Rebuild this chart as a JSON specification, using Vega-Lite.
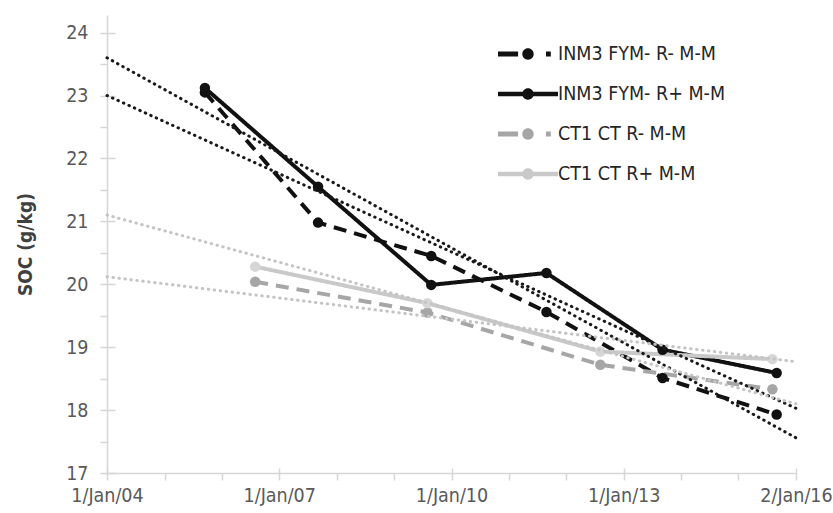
{
  "$schema": "https://vega.github.io/schema/vega-lite/v6.json",
  "width": 689,
  "height": 458,
  "autosize": "none",
  "padding": {"left": 107, "top": 15, "right": 37, "bottom": 40},
  "background": "white",
  "config": {
    "view": {"stroke": null},
    "font": "DejaVu Sans Condensed, sans-serif",
    "axis": {
      "grid": false,
      "domainColor": "#d6d6d6",
      "domainWidth": 1.5,
      "tickColor": "#d6d6d6",
      "tickWidth": 1.5,
      "labelColor": "#595959",
      "labelFontSize": 19.5,
      "labelFont": "DejaVu Sans Condensed, sans-serif",
      "labelFlush": false,
      "labelOverlap": false
    }
  },
  "datasets": {
    "obs": [
      {"series": "INM3 FYM- R- M-M", "date": "2005-09-15", "soc": 23.05},
      {"series": "INM3 FYM- R- M-M", "date": "2007-09-05", "soc": 20.98},
      {"series": "INM3 FYM- R- M-M", "date": "2009-08-25", "soc": 20.45},
      {"series": "INM3 FYM- R- M-M", "date": "2011-08-28", "soc": 19.56},
      {"series": "INM3 FYM- R- M-M", "date": "2013-09-05", "soc": 18.51},
      {"series": "INM3 FYM- R- M-M", "date": "2015-09-01", "soc": 17.93},
      {"series": "INM3 FYM- R+ M-M", "date": "2005-09-15", "soc": 23.12},
      {"series": "INM3 FYM- R+ M-M", "date": "2007-09-05", "soc": 21.55},
      {"series": "INM3 FYM- R+ M-M", "date": "2009-08-25", "soc": 19.99},
      {"series": "INM3 FYM- R+ M-M", "date": "2011-08-28", "soc": 20.18},
      {"series": "INM3 FYM- R+ M-M", "date": "2013-09-05", "soc": 18.96},
      {"series": "INM3 FYM- R+ M-M", "date": "2015-09-01", "soc": 18.59},
      {"series": "CT1 CT R- M-M", "date": "2006-08-01", "soc": 20.04},
      {"series": "CT1 CT R- M-M", "date": "2009-08-01", "soc": 19.55},
      {"series": "CT1 CT R- M-M", "date": "2012-08-05", "soc": 18.72},
      {"series": "CT1 CT R- M-M", "date": "2015-08-05", "soc": 18.33},
      {"series": "CT1 CT R+ M-M", "date": "2006-08-01", "soc": 20.28},
      {"series": "CT1 CT R+ M-M", "date": "2009-08-01", "soc": 19.70},
      {"series": "CT1 CT R+ M-M", "date": "2012-08-05", "soc": 18.93},
      {"series": "CT1 CT R+ M-M", "date": "2015-08-05", "soc": 18.81}
    ],
    "trend": [
      {"trend": "INM3 R- trend", "tone": "black", "date": "2004-01-01", "soc": 23.6},
      {"trend": "INM3 R- trend", "tone": "black", "date": "2016-01-01", "soc": 17.56},
      {"trend": "INM3 R+ trend", "tone": "black", "date": "2004-01-01", "soc": 23.0},
      {"trend": "INM3 R+ trend", "tone": "black", "date": "2016-01-01", "soc": 18.03},
      {"trend": "CT1 R- trend", "tone": "gray", "date": "2004-01-01", "soc": 21.1},
      {"trend": "CT1 R- trend", "tone": "gray", "date": "2016-01-01", "soc": 18.1},
      {"trend": "CT1 R+ trend", "tone": "gray", "date": "2004-01-01", "soc": 20.12},
      {"trend": "CT1 R+ trend", "tone": "gray", "date": "2016-01-01", "soc": 18.77}
    ]
  },
  "layer": [
    {
      "data": {"name": "obs"},
      "mark": {"type": "line", "strokeWidth": 4},
      "encoding": {
        "x": {
          "field": "date",
          "type": "temporal",
          "scale": {
            "type": "utc",
            "nice": false,
            "domain": [
              {"year": 2004, "month": 1, "date": 1, "utc": true},
              {"year": 2016, "month": 1, "date": 2, "utc": true}
            ]
          },
          "axis": {
            "orient": "bottom",
            "title": null,
            "tickSize": 7,
            "labelPadding": 6,
            "values": [
              {"year": 2004, "month": 1, "date": 1, "utc": true},
              {"year": 2005, "month": 1, "date": 1, "utc": true},
              {"year": 2006, "month": 1, "date": 1, "utc": true},
              {"year": 2007, "month": 1, "date": 1, "utc": true},
              {"year": 2008, "month": 1, "date": 1, "utc": true},
              {"year": 2009, "month": 1, "date": 1, "utc": true},
              {"year": 2010, "month": 1, "date": 1, "utc": true},
              {"year": 2011, "month": 1, "date": 1, "utc": true},
              {"year": 2012, "month": 1, "date": 1, "utc": true},
              {"year": 2013, "month": 1, "date": 1, "utc": true},
              {"year": 2014, "month": 1, "date": 1, "utc": true},
              {"year": 2015, "month": 1, "date": 1, "utc": true},
              {"year": 2016, "month": 1, "date": 2, "utc": true}
            ],
            "labelExpr": "utcmonth(datum.value) == 0 && (utcyear(datum.value) - 2004) % 3 == 0 ? utcFormat(datum.value, '%-d/%b/%y') : ''"
          }
        },
        "y": {
          "field": "soc",
          "type": "quantitative",
          "scale": {"domain": [17, 24.28], "nice": false, "zero": false},
          "axis": {
            "orient": "left",
            "title": "SOC (g/kg)",
            "titleFont": "DejaVu Sans Condensed, sans-serif",
            "titleFontWeight": "bold",
            "titleFontSize": 19,
            "titleColor": "#404040",
            "titlePadding": 30,
            "tickSize": 7,
            "labelPadding": 12,
            "values": [17, 17.5, 18, 18.5, 19, 19.5, 20, 20.5, 21, 21.5, 22, 22.5, 23, 23.5, 24],
            "labelExpr": "datum.value % 1 == 0 ? format(datum.value, 'd') : ''"
          }
        },
        "stroke": {
          "field": "series",
          "type": "nominal",
          "scale": {"range": ["#c9c9c9", "#a6a6a6", "#111111", "#111111"]},
          "legend": null
        },
        "strokeDash": {
          "field": "series",
          "type": "nominal",
          "scale": {"range": [[1, 0], [13, 8], [1, 0], [13, 8]]},
          "legend": null
        }
      }
    },
    {
      "data": {"name": "obs"},
      "mark": {"type": "point", "filled": true, "size": 110, "opacity": 1},
      "encoding": {
        "x": {"field": "date", "type": "temporal", "axis": null},
        "y": {"field": "soc", "type": "quantitative", "axis": null},
        "fill": {
          "field": "series",
          "type": "nominal",
          "scale": {"range": ["#d6d6d6", "#a6a6a6", "#111111", "#111111"]},
          "legend": null
        }
      }
    },
    {
      "data": {"name": "trend"},
      "transform": [{"filter": "datum.tone == 'black'"}],
      "mark": {"type": "line", "color": "#1a1a1a", "strokeWidth": 3, "strokeDash": [0.5, 5.5], "strokeCap": "round"},
      "encoding": {
        "x": {
          "field": "date",
          "type": "temporal",
          "axis": {
            "orient": "bottom",
            "title": null,
            "labels": false,
            "domain": false,
            "tickSize": -5,
            "values": [
              {"year": 2004, "month": 1, "date": 1, "utc": true},
              {"year": 2007, "month": 1, "date": 1, "utc": true},
              {"year": 2010, "month": 1, "date": 1, "utc": true},
              {"year": 2013, "month": 1, "date": 1, "utc": true},
              {"year": 2016, "month": 1, "date": 2, "utc": true}
            ]
          }
        },
        "y": {
          "field": "soc",
          "type": "quantitative",
          "axis": {
            "orient": "left",
            "title": null,
            "labels": false,
            "domain": false,
            "tickSize": -8,
            "values": [17, 18, 19, 20, 21, 22, 23, 24]
          }
        },
        "detail": {"field": "trend"}
      }
    },
    {
      "data": {"name": "trend"},
      "transform": [{"filter": "datum.tone == 'gray'"}],
      "mark": {"type": "line", "color": "#c4c4c4", "strokeWidth": 3, "strokeDash": [0.5, 5.5], "strokeCap": "round"},
      "encoding": {
        "x": {"field": "date", "type": "temporal", "axis": null},
        "y": {"field": "soc", "type": "quantitative", "axis": null},
        "detail": {"field": "trend"}
      }
    },
    {
      "data": {"name": "obs"},
      "transform": [{"filter": "false"}],
      "mark": {"type": "point", "filled": true, "opacity": 1},
      "encoding": {
        "x": {"field": "date", "type": "temporal", "axis": null},
        "y": {"field": "soc", "type": "quantitative", "axis": null},
        "color": {
          "field": "series",
          "type": "nominal",
          "scale": {
            "domain": ["INM3 FYM- R- M-M", "INM3 FYM- R+ M-M", "CT1 CT R- M-M", "CT1 CT R+ M-M"],
            "range": ["#111111", "#111111", "#a6a6a6", "#c9c9c9"]
          },
          "legend": {
            "orient": "none",
            "legendX": 391,
            "legendY": 9,
            "title": null,
            "symbolSize": 3600,
            "symbolStrokeWidth": 0,
            "symbolOpacity": 1,
            "labelFontSize": 19.5,
            "labelColor": "#262626",
            "labelOffset": 0,
            "labelLimit": 300,
            "rowPadding": 0
          }
        },
        "shape": {
          "field": "series",
          "type": "nominal",
          "scale": {
            "domain": ["INM3 FYM- R- M-M", "INM3 FYM- R+ M-M", "CT1 CT R- M-M", "CT1 CT R+ M-M"],
            "range": [
              "M-1,-0.08H-0.33V0.08H-1Z M0.19,0A0.19,0.19 0 1,1 -0.19,0A0.19,0.19 0 1,1 0.19,0Z M0.6,-0.08H0.76V0.08H0.6Z",
              "M-1,-0.075H1V0.075H-1Z M0.19,0A0.19,0.19 0 1,1 -0.19,0A0.19,0.19 0 1,1 0.19,0Z",
              "M-1,-0.08H-0.33V0.08H-1Z M0.19,0A0.19,0.19 0 1,1 -0.19,0A0.19,0.19 0 1,1 0.19,0Z M0.6,-0.08H0.76V0.08H0.6Z",
              "M-1,-0.075H1V0.075H-1Z M0.19,0A0.19,0.19 0 1,1 -0.19,0A0.19,0.19 0 1,1 0.19,0Z"
            ]
          },
          "legend": {
            "orient": "none",
            "legendX": 391,
            "legendY": 9,
            "title": null,
            "symbolSize": 3600,
            "symbolStrokeWidth": 0,
            "symbolOpacity": 1,
            "labelFontSize": 19.5,
            "labelColor": "#262626",
            "labelOffset": 0,
            "labelLimit": 300,
            "rowPadding": 0
          }
        }
      }
    }
  ],
  "resolve": {"axis": {"x": "independent", "y": "independent"}}
}
